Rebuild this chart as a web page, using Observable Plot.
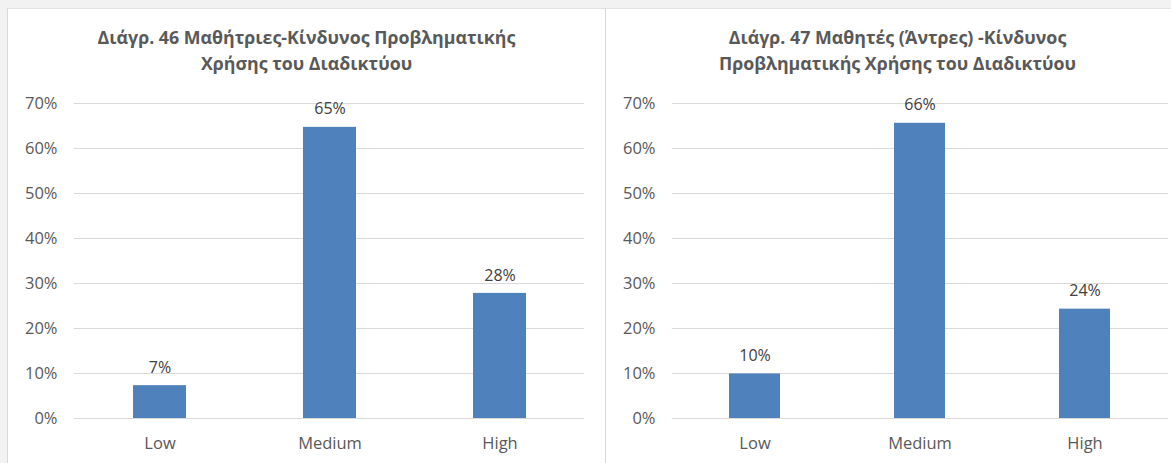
<!DOCTYPE html>
<html>
<head>
<meta charset="utf-8">
<script src="https://cdn.jsdelivr.net/npm/d3@7"></script>
<script src="https://cdn.jsdelivr.net/npm/@observablehq/plot@0.6"></script>
<style>
  html, body { margin: 0; padding: 0; }
  body { width: 1171px; height: 463px; background: #f2f2f2; position: relative; overflow: hidden; font-family: "Open Sans", sans-serif; }
  .panel { position: absolute; top: 8px; height: 470px; background: #ffffff; border-left: 1px solid #d9d9d9; border-top: 1px solid #e3e3e3; overflow: hidden; }
  .title { position: absolute; left: 0; right: 0; top: 15px; text-align: center; font-weight: bold; font-size: 17.8px; line-height: 26px; color: #595959; }
  .panel svg { position: absolute; left: 0; top: 0; }
</style>
</head>
<body>
<div class="panel" id="p1" style="left:7px;width:597px;"><div class="title" id="t1"></div></div>
<div class="panel" id="p2" style="left:605px;width:583px;"><div class="title" id="t2"></div></div>
<script>
const categories = ["Low", "Medium", "High"];
const femaleValues = [7.3, 64.7, 27.8];
const maleValues = [9.9, 65.6, 24.3];
const femaleLabels = ["7%", "65%", "28%"];
const maleLabels = ["10%", "66%", "24%"];
const yTicks = [0, 10, 20, 30, 40, 50, 60, 70];
const title1 = ["Διάγρ. 46 Μαθήτριες-Κίνδυνος Προβληματικής", "Χρήσης του Διαδικτύου"];
const title2 = ["Διάγρ. 47 Μαθητές (Άντρες) -Κίνδυνος", "Προβληματικής Χρήσης του Διαδικτύου"];

function makeChart(values, labels, width, marginLeft, marginRight) {
  const data = categories.map((c, i) => ({cat: c, v: values[i], label: labels[i]}));
  return Plot.plot({
    width: width,
    height: 455,
    marginTop: 94,
    marginBottom: 46,
    marginLeft: marginLeft,
    marginRight: marginRight,
    style: {fontFamily: "'Open Sans', sans-serif", fontSize: "16px", color: "#595959", background: "transparent"},
    x: {domain: categories, paddingInner: 0.69, paddingOuter: 0.345, label: null},
    y: {domain: [0, 70], ticks: yTicks, label: null},
    marks: [
      Plot.gridY(yTicks, {stroke: "#d9d9d9", strokeOpacity: 1, strokeWidth: 1}),
      Plot.barY(data, {x: "cat", y: "v", fill: "#4f81bd"}),
      Plot.text(data, {x: "cat", y: "v", text: "label", dy: -18, fill: "#404040", fontSize: 16}),
      Plot.axisY(yTicks, {tickSize: 0, tickPadding: 17, tickFormat: d => d + "%", fontSize: 16.5, fill: "#595959"}),
      Plot.axisX({tickSize: 0, tickPadding: 19, fontSize: 16.5, fill: "#595959"})
    ]
  });
}

document.getElementById("t1").innerHTML = title1.join("<br>");
document.getElementById("t2").innerHTML = title2.join("<br>");
document.getElementById("p1").appendChild(makeChart(femaleValues, femaleLabels, 597, 66, 21));
document.getElementById("p2").appendChild(makeChart(maleValues, maleLabels, 583, 66, 21));
</script>
</body>
</html>
